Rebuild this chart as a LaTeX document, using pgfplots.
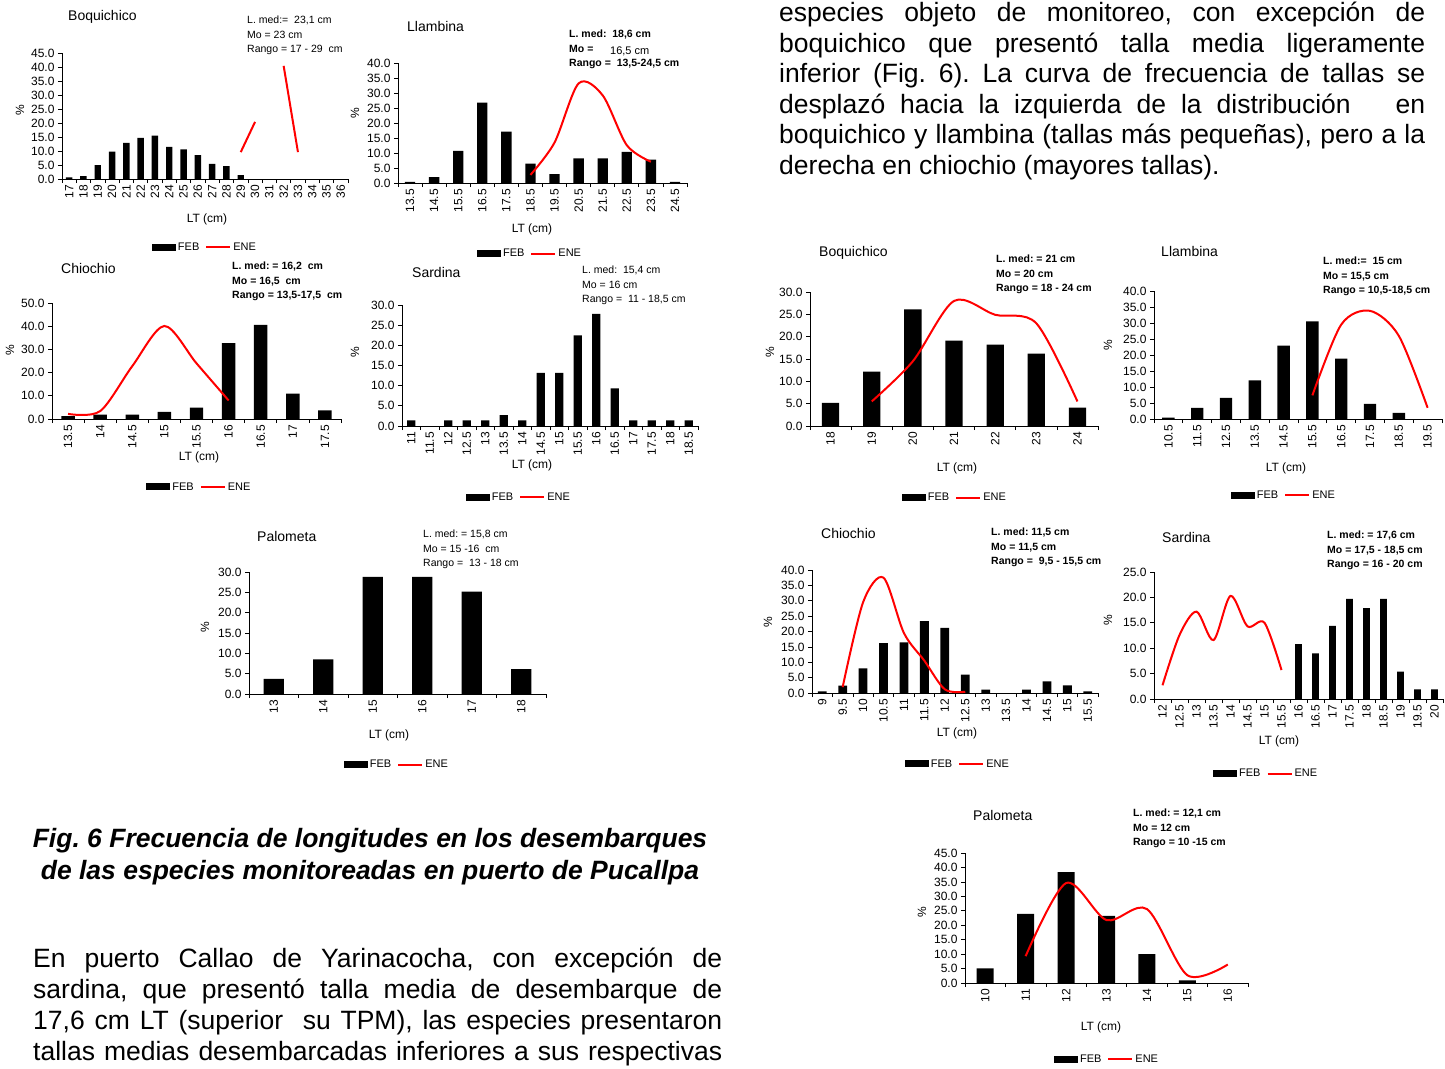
\documentclass[border=0pt]{standalone}
\usepackage{fontspec}
\setmainfont{Liberation Sans}
\usepackage{pgfplots}
\pgfplotsset{compat=1.18}
\newcommand\fs[1]{\fontsize{#1}{#1}\selectfont}
\frenchspacing

\pgfplotsset{
  fish/.style={
    scale only axis, anchor=south west, clip=false,
    axis x line=bottom, axis y line=left,
    axis line style={-, black, line width=0.7pt},
    ymin=0, enlargelimits=false,
    tick align=outside, major tick length=4pt,
    tick style={black, line width=0.7pt},
    x tick label as interval,
    xticklabel style={rotate=90, anchor=east, font=\fs{12}, inner sep=2pt},
    yticklabel style={font=\fs{12}, /pgf/number format/.cd, fixed, fixed zerofill, precision=1, assume math mode=true},
    legend columns=2,
    legend style={draw=none, fill=none, anchor=center, font=\fs{11},
      /tikz/every even column/.append style={column sep=4pt}},
  },
  febbar/.style={ybar, fill=black, draw=none, bar width=#1,
    legend image code/.code={\fill[black] (0pt,-3.5pt) rectangle (24pt,3.5pt);}},
  eneline/.style={red, line width=2pt,
    legend image code/.code={\draw[red, line width=2pt] (0pt,0pt) -- (24pt,0pt);}},
}

% three-line annotation: x, centre of first line, lines
\newcommand\ann[5]{%
  \node[anchor=base west] at (#1,#2+3.8) {#3};
  \node[anchor=base west] at (#1,#2+18.3) {#4};
  \node[anchor=base west] at (#1,#2+32.8) {#5};}

\begin{document}
\begin{tikzpicture}
\path[use as bounding box] (0pt,0pt) rectangle (1445pt,-1068pt);

% ---------- Pucallpa: Boquichico ----------
\begin{axis}[fish, at={(62pt,-179pt)}, width=286pt, height=126pt,
  xmin=16.5, xmax=36.5, ymax=45, ytick={0,5,...,45},
  xtick={16.5,17.5,...,36.5},
  xticklabels={17,18,19,20,21,22,23,24,25,26,27,28,29,30,31,32,33,34,35,36},
  legend style={at={(0.5,-0.54)}}, unbounded coords=jump]
\addplot[febbar=0.45] coordinates {(17,0.6) (18,1.0) (19,5.0) (20,9.8) (21,12.9)
  (22,14.7) (23,15.5) (24,11.5) (25,10.6) (26,8.5) (27,5.4) (28,4.6) (29,1.4)};
\addlegendentry{FEB}
\addplot[eneline] coordinates {(29,9.6) (30,20.4) (31,nan) (32,40.4) (33,9.6)};
\addlegendentry{ENE}
\end{axis}

% ---------- Pucallpa: Llambina ----------
\begin{axis}[fish, at={(398pt,-183pt)}, width=289pt, height=120pt,
  xmin=13, xmax=25, ymax=40, ytick={0,5,...,40},
  xtick={13,14,...,25},
  xticklabels={13.5,14.5,15.5,16.5,17.5,18.5,19.5,20.5,21.5,22.5,23.5,24.5},
  legend style={at={(0.457,-0.59)}}]
\addplot[febbar=0.43] coordinates {(13.5,0.4) (14.5,2.0) (15.5,10.7) (16.5,26.8)
  (17.5,17.1) (18.5,6.5) (19.5,3.0) (20.5,8.2) (21.5,8.2) (22.5,10.4) (23.5,7.8) (24.5,0.4)};
\addlegendentry{FEB}
\addplot[eneline, smooth] coordinates {(18.5,2.7) (19.5,13.5) (20.5,33.2) (21.5,29.2) (22.5,12.6) (23.5,7.1)};
\addlegendentry{ENE}
\end{axis}

% ---------- Pucallpa: Chiochio ----------
\begin{axis}[fish, at={(52pt,-419pt)}, width=289pt, height=116pt,
  xmin=13.25, xmax=17.75, ymax=50, ytick={0,10,...,50},
  xtick={13.25,13.75,...,17.75},
  xticklabels={13.5,14,14.5,15,15.5,16,16.5,17,17.5},
  legend style={at={(0.51,-0.586)}}]
\addplot[febbar=0.21] coordinates {(13.5,1.2) (14,1.9) (14.5,1.9) (15,3.1) (15.5,4.9)
  (16,32.7) (16.5,40.6) (17,10.9) (17.5,3.7)};
\addlegendentry{FEB}
\addplot[eneline, smooth] coordinates {(13.5,2.2) (14,3.4) (14.5,22.8) (15,40.1) (15.5,24) (16,8)};
\addlegendentry{ENE}
\end{axis}

% ---------- Pucallpa: Sardina ----------
\begin{axis}[fish, at={(402pt,-426pt)}, width=296pt, height=121pt,
  xmin=10.75, xmax=18.75, ymax=30, ytick={0,5,...,30},
  xtick={10.75,11.25,...,18.75},
  xticklabels={11,11.5,12,12.5,13,13.5,14,14.5,15,15.5,16,16.5,17,17.5,18,18.5},
  legend style={at={(0.395,-0.587)}}]
\addplot[febbar=0.225] coordinates {(11,1.4) (11.5,0) (12,1.4) (12.5,1.4) (13,1.4)
  (13.5,2.7) (14,1.4) (14.5,13.2) (15,13.2) (15.5,22.5) (16,27.8) (16.5,9.3)
  (17,1.4) (17.5,1.4) (18,1.4) (18.5,1.4)};
\addlegendentry{FEB}
\addlegendimage{eneline}
\addlegendentry{ENE}
\end{axis}

% ---------- Pucallpa: Palometa ----------
\begin{axis}[fish, at={(249pt,-694pt)}, width=297pt, height=122pt,
  xmin=12.5, xmax=18.5, ymax=30, ytick={0,5,...,30},
  xtick={12.5,13.5,...,18.5},
  xticklabels={13,14,15,16,17,18},
  legend style={at={(0.498,-0.58)}}]
\addplot[febbar=0.41] coordinates {(13,3.7) (14,8.5) (15,28.8) (16,28.8) (17,25.2) (18,6.1)};
\addlegendentry{FEB}
\addlegendimage{eneline}
\addlegendentry{ENE}
\end{axis}

% ---------- Yarinacocha: Boquichico ----------
\begin{axis}[fish, at={(810pt,-426pt)}, width=288pt, height=134pt,
  xmin=17.5, xmax=24.5, ymax=30, ytick={0,5,...,30},
  xtick={17.5,18.5,...,24.5},
  xticklabels={18,19,20,21,22,23,24},
  legend style={at={(0.503,-0.537)}}]
\addplot[febbar=0.42] coordinates {(18,5.2) (19,12.2) (20,26.1) (21,19.1) (22,18.2) (23,16.2) (24,4.1)};
\addlegendentry{FEB}
\addplot[eneline, smooth] coordinates {(19,5.5) (20,14.5) (21,28.0) (22,24.9) (23,23.0) (24,5.5)};
\addlegendentry{ENE}
\end{axis}

% ---------- Yarinacocha: Llambina ----------
\begin{axis}[fish, at={(1154pt,-419pt)}, width=288pt, height=128pt,
  xmin=10, xmax=20, ymax=40, ytick={0,5,...,40},
  xtick={10,11,...,20},
  xticklabels={10.5,11.5,12.5,13.5,14.5,15.5,16.5,17.5,18.5,19.5},
  legend style={at={(0.451,-0.594)}}]
\addplot[febbar=0.43] coordinates {(10.5,0.4) (11.5,3.5) (12.5,6.6) (13.5,12.1) (14.5,22.9)
  (15.5,30.5) (16.5,18.9) (17.5,4.7) (18.5,1.9)};
\addlegendentry{FEB}
\addplot[eneline, smooth] coordinates {(15.5,7.4) (16.5,29.5) (17.5,33.8) (18.5,26) (19.5,3.5)};
\addlegendentry{ENE}
\end{axis}

% ---------- Yarinacocha: Chiochio ----------
\begin{axis}[fish, at={(812pt,-693pt)}, width=286pt, height=123pt,
  xmin=8.75, xmax=15.75, ymax=40, ytick={0,5,...,40},
  xtick={8.75,9.25,...,15.75},
  xticklabels={9,9.5,10,10.5,11,11.5,12,12.5,13,13.5,14,14.5,15,15.5},
  legend style={at={(0.51,-0.577)}}]
\addplot[febbar=0.215] coordinates {(9,0.5) (9.5,2.4) (10,8.0) (10.5,16.2) (11,16.5)
  (11.5,23.4) (12,21.2) (12.5,6.0) (13,1.1) (13.5,0) (14,1.1) (14.5,3.8) (15,2.5) (15.5,0.5)};
\addlegendentry{FEB}
\addplot[eneline, smooth] coordinates {(9.5,1.9) (10,29.5) (10.5,37.5) (11,19.5) (11.5,10.5) (12,1.2) (12.5,0.4)};
\addlegendentry{ENE}
\end{axis}

% ---------- Yarinacocha: Sardina ----------
\begin{axis}[fish, at={(1154pt,-699pt)}, width=289pt, height=127pt,
  xmin=11.75, xmax=20.25, ymax=25, ytick={0,5,...,25},
  xtick={11.75,12.25,...,20.25},
  xticklabels={12,12.5,13,13.5,14,14.5,15,15.5,16,16.5,17,17.5,18,18.5,19,19.5,20},
  legend style={at={(0.388,-0.59)}}]
\addplot[febbar=0.2] coordinates {(16,10.8) (16.5,9.0) (17,14.4) (17.5,19.7) (18,17.9)
  (18.5,19.7) (19,5.4) (19.5,1.9) (20,1.9)};
\addlegendentry{FEB}
\addplot[eneline, smooth] coordinates {(12,2.7) (12.5,12.6) (13,17.2) (13.5,11.6) (14,20.3) (14.5,14.3) (15,15) (15.5,5.7)};
\addlegendentry{ENE}
\end{axis}

% ---------- Yarinacocha: Palometa ----------
\begin{axis}[fish, at={(965pt,-983pt)}, width=283pt, height=130pt,
  xmin=9.5, xmax=16.5, ymax=45, ytick={0,5,...,45},
  xtick={9.5,10.5,...,16.5},
  xticklabels={10,11,12,13,14,15,16},
  legend style={at={(0.502,-0.585)}}]
\addplot[febbar=0.42] coordinates {(10,5.1) (11,23.9) (12,38.4) (13,23.2) (14,10.0) (15,0.9)};
\addlegendentry{FEB}
\addplot[eneline, smooth] coordinates {(11,9.3) (12,34.6) (13,21.8) (14,25.6) (15,2.7) (16,6.4)};
\addlegendentry{ENE}
\end{axis}

\begin{scope}[x=1pt, y=-1pt, every node/.style={inner sep=0pt}]
% titles
\begin{scope}[every node/.append style={anchor=west, font=\fs{14}}]
\node at (68,17) {Boquichico};
\node at (407,26) {Llambina};
\node at (61,268) {Chiochio};
\node at (412,272) {Sardina};
\node at (257,536) {Palometa};
\node at (819,253) {Boquichico};
\node at (1161,251) {Llambina};
\node at (821,533) {Chiochio};
\node at (1162,537) {Sardina};
\node at (973,815) {Palometa};
\end{scope}
% y labels
\begin{scope}[every node/.append style={rotate=90, font=\fs{12}}]
\node at (20,110) {\%};
\node at (355,113) {\%};
\node at (10,350) {\%};
\node at (355,352) {\%};
\node at (205,627) {\%};
\node at (770,352) {\%};
\node at (1108,345) {\%};
\node at (768,622) {\%};
\node at (1108,620) {\%};
\node at (922,912) {\%};
\end{scope}
% x labels
\begin{scope}[every node/.append style={font=\fs{12}}]
\node at (207,219) {LT (cm)};
\node at (532,229) {LT (cm)};
\node at (199,457) {LT (cm)};
\node at (532,465) {LT (cm)};
\node at (389,735) {LT (cm)};
\node at (957,468) {LT (cm)};
\node at (1286,468) {LT (cm)};
\node at (957,733) {LT (cm)};
\node at (1279,741) {LT (cm)};
\node at (1101,1027) {LT (cm)};
\end{scope}
% annotations, regular
\begin{scope}[every node/.append style={font=\fs{10.5}}]
\ann{247}{20}{L. med:=\ \ 23,1 cm}{Mo = 23 cm}{Rango = 17 - 29\ \ cm}
\ann{582}{270}{L. med:\ \ 15,4 cm}{Mo = 16 cm}{Rango =\ \ 11 - 18,5 cm}
\ann{423}{534}{L. med: = 15,8 cm}{Mo = 15 -16\ \ cm}{Rango =\ \ 13 - 18 cm}
\node[anchor=base west, font=\fs{11}] at (610,54.5) {16,5 cm};
\end{scope}
% annotations, bold
\begin{scope}[every node/.append style={font=\fs{10.5}\bfseries}]
\ann{569}{34}{L. med:\ \ 18,6 cm}{Mo =}{Rango =\ \ 13,5-24,5 cm}
\ann{232}{266}{L. med: = 16,2\ \ cm}{Mo = 16,5\ \ cm}{Rango = 13,5-17,5\ \ cm}
\ann{996}{259}{L. med: = 21 cm}{Mo = 20 cm}{Rango = 18 - 24 cm}
\ann{1323}{261}{L. med:=\ \ 15 cm}{Mo = 15,5 cm}{Rango = 10,5-18,5 cm}
\ann{991}{532}{L. med: 11,5 cm}{Mo = 11,5 cm}{Rango =\ \ 9,5 - 15,5 cm}
\ann{1327}{535}{L. med: = 17,6 cm}{Mo = 17,5 - 18,5 cm}{Rango = 16 - 20 cm}
\ann{1133}{813}{L. med: = 12,1 cm}{Mo = 12 cm}{Rango = 10 -15 cm}
\end{scope}
% body text, top right
\begin{scope}[every node/.append style={anchor=base west, font=\fontsize{26.5}{30}\selectfont}]
\node at (779,21.5) {\makebox[646pt][s]{especies objeto de monitoreo, con excepción de}};
\node at (779,52) {\makebox[646pt][s]{boquichico que presentó talla media ligeramente}};
\node at (779,82.5) {\makebox[646pt][s]{inferior (Fig. 6). La curva de frecuencia de tallas se}};
\node at (779,113) {\makebox[646pt][s]{desplazó hacia la izquierda de la distribución\ \ \ en}};
\node at (779,143.5) {\makebox[646pt][s]{boquichico y llambina (tallas más pequeñas), pero a la}};
\node at (779,174) {derecha en chiochio (mayores tallas).};
% body text, bottom left
\node at (33,967.5) {\makebox[689pt][s]{En puerto Callao de Yarinacocha, con excepción de}};
\node at (33,998.5) {\makebox[689pt][s]{sardina, que presentó talla media de desembarque de}};
\node at (33,1029.5) {\makebox[689pt][s]{17,6 cm LT (superior\ \ su TPM), las especies presentaron}};
\node at (33,1060) {\makebox[689pt][s]{tallas medias desembarcadas inferiores a sus respectivas}};
\end{scope}
% caption
\begin{scope}[every node/.append style={anchor=base, font=\fontsize{26.5}{30}\selectfont\bfseries\itshape}]
\node at (370,847.5) {Fig. 6 Frecuencia de longitudes en los desembarques};
\node at (370,879.5) {de las especies monitoreadas en puerto de Pucallpa};
\end{scope}
\end{scope}
\end{tikzpicture}
\end{document}
